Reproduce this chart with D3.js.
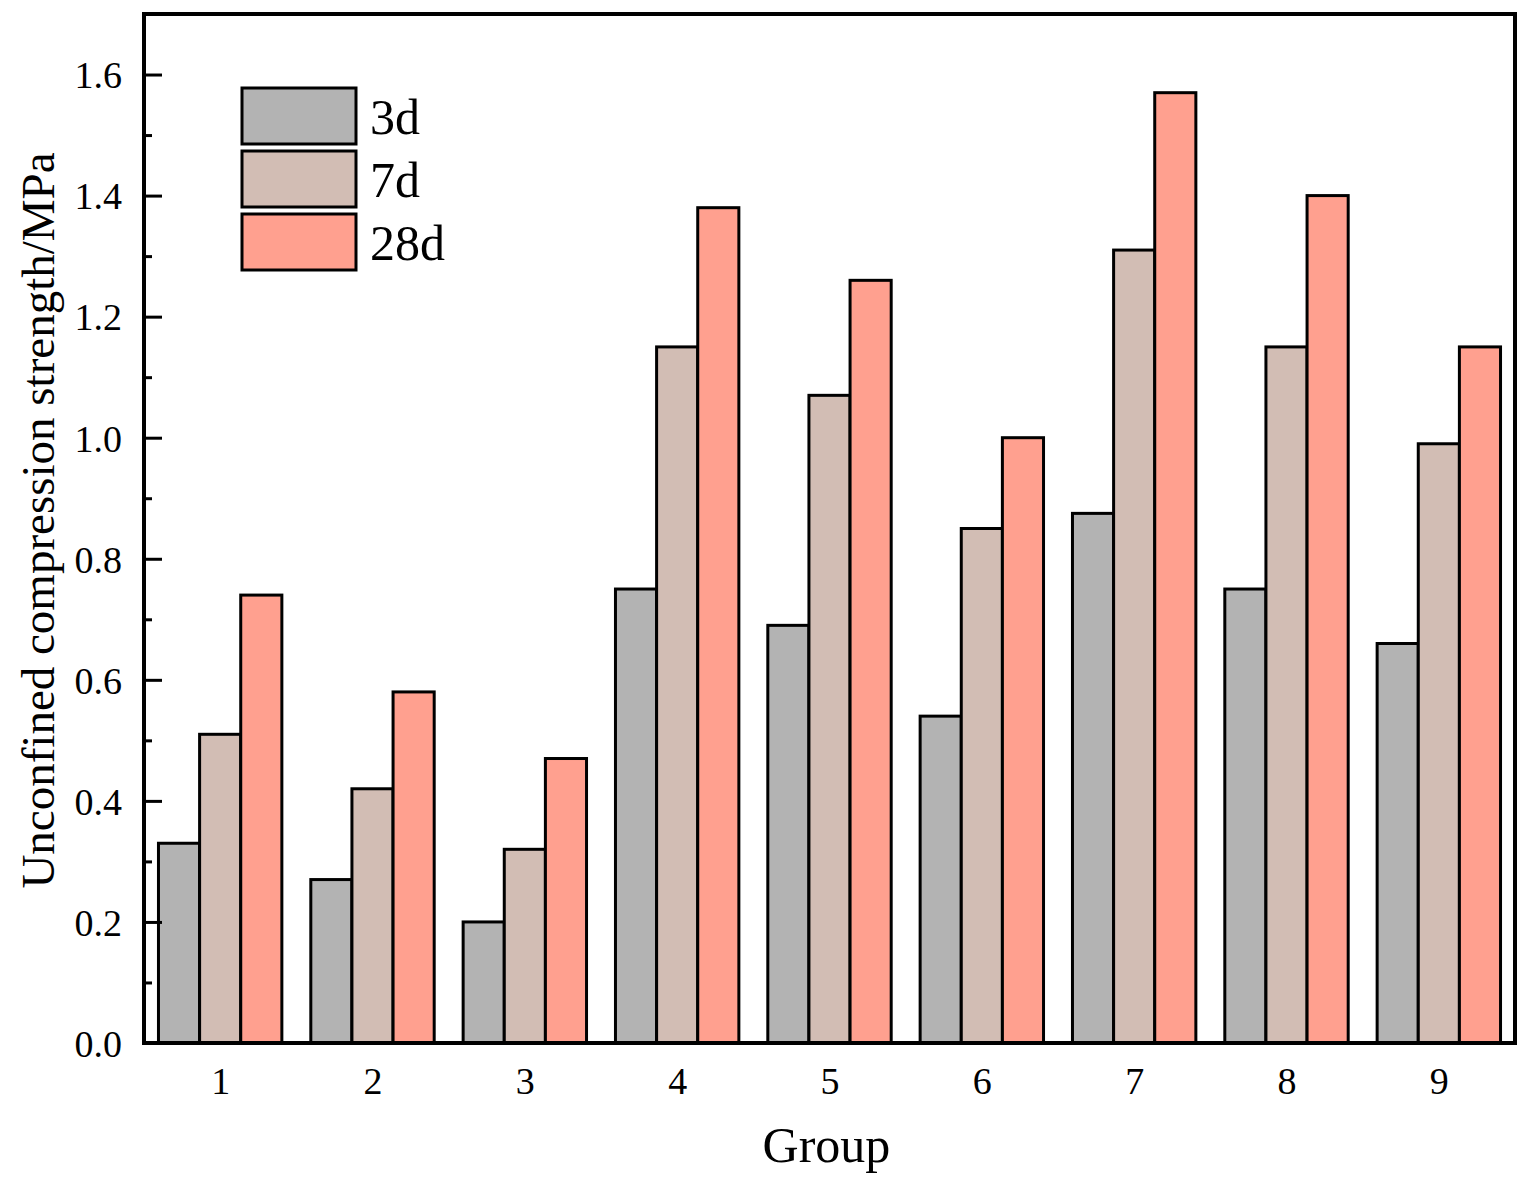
<!DOCTYPE html>
<html>
<head>
<meta charset="utf-8">
<script src="https://cdn.jsdelivr.net/npm/d3@7"></script>
<style>
  body { margin: 0; background: #fff; }
  svg { display: block; }
</style>
</head>
<body>
<svg id="chart"></svg>
<script>
/* global d3 */

// data
const groups = [1, 2, 3, 4, 5, 6, 7, 8, 9]
const series = ['3d', '7d', '28d']
const day3 = [0.33, 0.27, 0.20, 0.75, 0.69, 0.54, 0.875, 0.75, 0.66]
const day7 = [0.51, 0.42, 0.32, 1.15, 1.07, 0.85, 1.31, 1.15, 0.99]
const day28 = [0.74, 0.58, 0.47, 1.38, 1.26, 1.00, 1.57, 1.40, 1.15]
const yTicks = [0, 0.2, 0.4, 0.6, 0.8, 1.0, 1.2, 1.4, 1.6]
const colors = ['#b3b3b3', '#d2bdb4', '#ffa08f']

const values = [day3, day7, day28]

const W = 1528
const H = 1187
const margin = { top: 14, right: 13, bottom: 144, left: 144 }
const plotW = W - margin.left - margin.right
const plotH = H - margin.top - margin.bottom

const svg = d3.select('#chart').attr('width', W).attr('height', H)
const g = svg.append('g').attr('transform', `translate(${margin.left},${margin.top})`)

const x = d3.scaleLinear().domain([0.5, 9.5]).range([0, plotW])
const y = d3.scaleLinear().domain([0, 1.7]).range([plotH, 0])
const step = x(2) - x(1)
const barW = step * 0.27

// bars
series.forEach((s, si) => {
  g.append('g').selectAll('rect')
    .data(groups)
    .join('rect')
    .attr('x', (d) => x(d) + (si - 1.5) * barW)
    .attr('y', (d, i) => y(values[si][i]))
    .attr('width', barW)
    .attr('height', (d, i) => y(0) - y(values[si][i]))
    .attr('fill', colors[si])
    .attr('stroke', '#000')
    .attr('stroke-width', 3)
})

const font = '"Liberation Serif", "Times New Roman", serif'

// y axis: inward ticks, minor every 0.1
const minor = d3.range(0.1, 1.7, 0.2)
g.append('g').call(d3.axisLeft(y).tickValues(minor).tickSize(-8).tickFormat(''))
  .call((a) => a.select('.domain').remove())
  .selectAll('line').attr('stroke-width', 3)
const yAx = g.append('g').call(d3.axisLeft(y).tickValues(yTicks).tickSize(-18).tickPadding(22).tickFormat(d3.format('.1f')))
yAx.select('.domain').remove()
yAx.selectAll('line').attr('stroke-width', 3)
yAx.selectAll('text').attr('font-family', font).attr('font-size', 38).attr('fill', '#000').attr('dy', '0.35em')

// x axis labels
const xAx = g.append('g').attr('transform', `translate(0,${plotH})`)
  .call(d3.axisBottom(x).tickValues(groups).tickSize(0).tickPadding(24).tickFormat(d3.format('d')))
xAx.select('.domain').remove()
xAx.selectAll('text').attr('font-family', font).attr('font-size', 38).attr('fill', '#000')

// frame
g.append('rect')
  .attr('x', 0).attr('y', 0).attr('width', plotW).attr('height', plotH)
  .attr('fill', 'none').attr('stroke', '#000').attr('stroke-width', 4)

// titles
svg.append('text')
  .attr('x', margin.left + plotW / 2 - 3).attr('y', 1162)
  .attr('text-anchor', 'middle')
  .attr('font-family', font).attr('font-size', 50)
  .text('Group')

svg.append('text')
  .attr('transform', `translate(54,${margin.top + plotH / 2 - 8}) rotate(-90)`)
  .attr('text-anchor', 'middle')
  .attr('font-family', font).attr('font-size', 47)
  .text('Unconfined compression strength/MPa')

// legend
const leg = svg.append('g').attr('transform', 'translate(242,88)')
series.forEach((s, i) => {
  leg.append('rect')
    .attr('x', 0).attr('y', i * 63)
    .attr('width', 114).attr('height', 56)
    .attr('fill', colors[i]).attr('stroke', '#000').attr('stroke-width', 3)
  leg.append('text')
    .attr('x', 128).attr('y', i * 63 + 46)
    .attr('font-family', font).attr('font-size', 50)
    .text(s)
})
</script>
</body>
</html>
